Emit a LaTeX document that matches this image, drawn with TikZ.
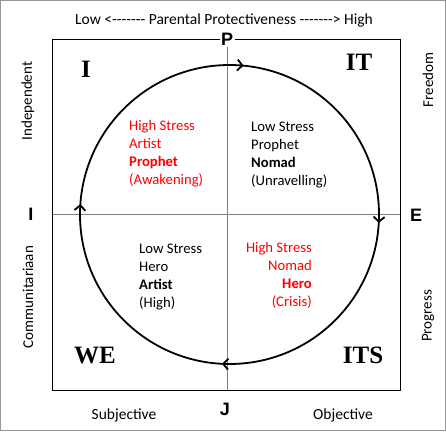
\documentclass[tikz,border=0pt]{standalone}
\usepackage{fontspec}
\newfontfamily\calfont{Carlito}
\newfontfamily\tnrfont{Liberation Serif}
\newfontfamily\arialfont{Liberation Sans}
\usetikzlibrary{arrows.meta,decorations.markings}
\definecolor{hired}{RGB}{255,0,0}
\definecolor{midgray}{RGB}{128,128,128}
\definecolor{framegray}{RGB}{150,150,150}
\tikzset{cyclebarb/.tip={Straight Barb[length=5pt,width=11pt]}}
\begin{document}
\begin{tikzpicture}[x=1pt,y=-1pt,
  lbl/.style={inner sep=0pt, font=\calfont\fontsize{15}{18}\selectfont},
  botlbl/.style={inner sep=0pt, font=\calfont\fontsize{15.5}{18}\selectfont},
  quadlbl/.style={inner sep=0pt, font=\tnrfont\bfseries\fontsize{25}{30}\selectfont},
  pole/.style={inner sep=1.5pt, font=\arialfont\bfseries\fontsize{18}{20}\selectfont},
  txt/.style={inner sep=0pt, font=\calfont\fontsize{14.67}{18}\selectfont},
  boldtxt/.style={inner sep=0pt, font=\calfont\bfseries\fontsize{14.67}{18}\selectfont},
  redtxt/.style={txt, text=hired},
]
\useasboundingbox (0,0) rectangle (446,431);
\draw[framegray, line width=1pt] (0.5,0.5) rectangle (445.5,430.5);

% box and midlines
\draw[midgray, line width=0.8pt] (227,39) -- (227,390);
\draw[midgray, line width=0.8pt] (52,214) -- (400,214);
\draw[black, line width=1pt] (52,39) rectangle (400,390);

% circle with arrows
\draw[line width=1.8pt, decoration={markings,
   mark=at position 0.009 with {\arrow{cyclebarb}},
   mark=at position 0.258 with {\arrow{cyclebarb}},
   mark=at position 0.511 with {\arrow{cyclebarb}},
   mark=at position 0.765 with {\arrow{cyclebarb}}},
   postaction=decorate] (229.5,214.5) circle (149.5);

% pole letters
\node[pole, fill=white] (P) at (227,39) {P};
\node[pole] (J) at (225,409) {J};
\node[pole] (Iw) at (31,214) {I};
\node[pole] (E) at (416,215) {E};

% top label
\node[botlbl, anchor=base] (top) at (224,24) {Low <-{}-{}-{}-{}-{}-{}- Parental Protectiveness -{}-{}-{}-{}-{}-{}-> High};

% side labels
\node[lbl, rotate=90] (indep) at (28,101) {Independent};
\node[lbl, rotate=90] (comm) at (28,297) {Communitariaan};
\node[lbl, rotate=90] (free) at (428,80) {Freedom};
\node[lbl, rotate=90] (prog) at (428,316) {Progress};
\node[botlbl, anchor=base] (subj) at (124,419) {Subjective};
\node[botlbl, anchor=base] (obj) at (343,419) {Objective};

% quadrant labels
\node[quadlbl] (qI) at (86,69) {I};
\node[quadlbl] (qIT) at (359,62) {IT};
\node[quadlbl] (qWE) at (95,355) {WE};
\node[quadlbl] (qITS) at (363,355) {ITS};

% top-left (red)
\node[redtxt, anchor=base west] (tl1) at (129,130) {High Stress};
\node[redtxt, anchor=base west] (tl2) at (129,148) {Artist};
\node[boldtxt, text=hired, anchor=base west] (tl3) at (129,166) {Prophet};
\node[redtxt, anchor=base west] (tl4) at (129,184) {(Awakening)};

% top-right (black)
\node[txt, anchor=base west] (tr1) at (251,131) {Low Stress};
\node[txt, anchor=base west] (tr2) at (251,149) {Prophet};
\node[boldtxt, anchor=base west] (tr3) at (251,167) {Nomad};
\node[txt, anchor=base west] (tr4) at (251,185) {(Unravelling)};

% bottom-left (black)
\node[txt, anchor=base west] (bl1) at (139,253) {Low Stress};
\node[txt, anchor=base west] (bl2) at (139,271) {Hero};
\node[boldtxt, anchor=base west] (bl3) at (139,289) {Artist};
\node[txt, anchor=base west] (bl4) at (139,307) {(High)};

% bottom-right (red)
\node[redtxt, anchor=base east] (br1) at (312,252) {High Stress};
\node[redtxt, anchor=base east] (br2) at (312,270) {Nomad};
\node[boldtxt, text=hired, anchor=base east] (br3) at (312,288) {Hero};
\node[redtxt, anchor=base east] (br4) at (312,306) {(Crisis)};
\end{tikzpicture}
\end{document}
